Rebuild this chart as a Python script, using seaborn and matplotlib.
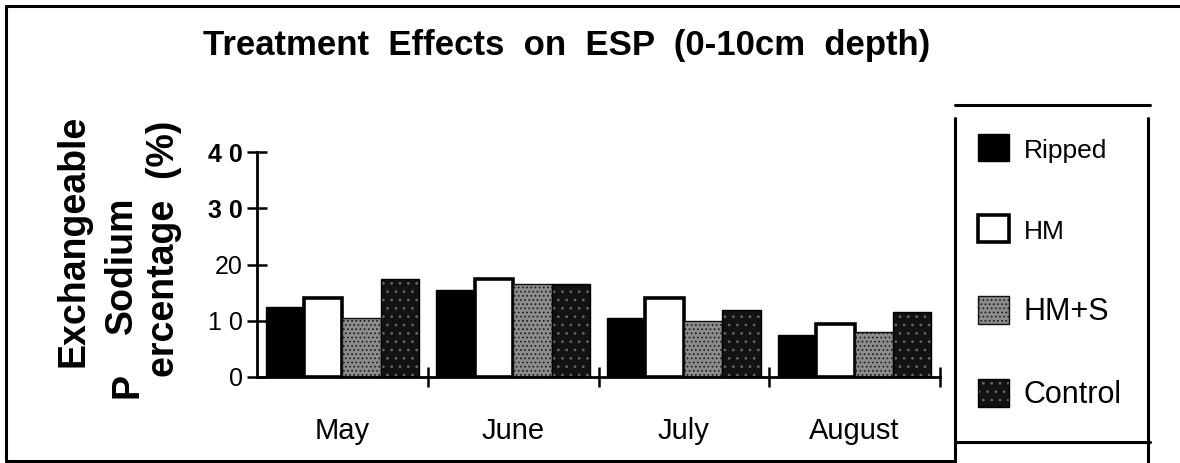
import matplotlib
matplotlib.use("Agg")
import matplotlib.pyplot as plt
import seaborn as sns
import pandas as pd
from matplotlib import font_manager
from matplotlib.colors import to_rgba
from matplotlib.lines import Line2D

# ---- data ----
months = ["May", "June", "July", "August"]
treatments = ["Ripped", "HM", "HM+S", "Control"]
ripped = [12.5, 15.5, 10.5, 7.5]
hm = [14.0, 17.5, 14.0, 9.5]
hm_s = [10.5, 16.5, 10.0, 8.0]
control = [17.5, 16.5, 12.0, 11.5]
y_ticks = [0, 10, 20, 30, 40]
y_tick_labels = ["0", "1 0", "20", "3 0", "4 0"]

W, H = 1180, 463


def pick_font(*names):
    for n in names:
        try:
            font_manager.findfont(font_manager.FontProperties(family=n),
                                  fallback_to_default=False)
            return n
        except ValueError:
            continue
    return "DejaVu Sans"


sns.set_theme(style="white")
SANS = pick_font("Liberation Sans", "Arial", "DejaVu Sans")
plt.rcParams["font.family"] = [SANS, "DejaVu Sans"]
plt.rcParams["hatch.linewidth"] = 0.7
for key in ("text.color", "axes.labelcolor", "xtick.color", "ytick.color",
            "axes.edgecolor"):
    plt.rcParams[key] = "black"

df = pd.DataFrame({
    "Month": months * 4,
    "Treatment": [t for t in treatments for _ in months],
    "ESP": ripped + hm + hm_s + control,
})

styles = {
    "Ripped": dict(face="#000000", edge="#000000", hatch=None, hcol=None, lw=1.0),
    "HM": dict(face="#ffffff", edge="#000000", hatch=None, hcol=None, lw=2.6),
    "HM+S": dict(face="#8c8c8c", edge="#111111", hatch="....", hcol="#1a1a1a", lw=1.0),
    "Control": dict(face="#121212", edge="#000000", hatch="..", hcol="#6a6a6a", lw=1.0),
}

fig = plt.figure(figsize=(W / 100, H / 100), dpi=100)
ax = fig.add_axes([257 / W, 86 / H, (940 - 257) / W, (377 - 152) / H])

sns.barplot(data=df, x="Month", y="ESP", hue="Treatment", order=months,
            hue_order=treatments, palette=[styles[t]["face"] for t in treatments],
            width=0.9, saturation=1, ax=ax, legend=False)

for cont, t in zip(ax.containers, treatments):
    s = styles[t]
    for p in cont.patches:
        p.set_facecolor(s["face"])
        p.set_edgecolor(s["edge"])
        p.set_linewidth(s["lw"])
        if s["hatch"]:
            p.set_hatch(s["hatch"])
            if hasattr(p, "set_hatchcolor"):
                p.set_hatchcolor(s["hcol"])
            else:
                p._hatch_color = to_rgba(s["hcol"])

ax.set_xlim(-0.5, 3.5)
ax.set_ylim(0, 40)
ax.set_xlabel("")
ax.set_ylabel("")

ax.set_xticks(range(len(months)))
ax.set_xticklabels(months, fontsize=21)
ax.set_xticks([0.5, 1.5, 2.5, 3.5], minor=True)
ax.tick_params(axis="x", which="major", bottom=True, length=0, pad=29)
ax.tick_params(axis="x", which="minor", bottom=True, direction="inout",
               length=14, width=1.8, color="black")

ax.set_yticks(y_ticks)
ax.set_yticklabels(y_tick_labels, fontsize=18)
for lab in ax.get_yticklabels():
    if lab.get_text() in ("3 0", "4 0"):
        lab.set_fontweight("bold")
ax.tick_params(axis="y", left=True, direction="inout", length=14, width=1.8,
               color="black", pad=3)

sns.despine(ax=ax)
for side in ("left", "bottom"):
    ax.spines[side].set_linewidth(2)
    ax.spines[side].set_color("black")
ax.grid(False)

# title
fig.text(567 / W, 1 - 46 / H, "Treatment  Effects  on  ESP  (0-10cm  depth)",
         ha="center", va="center", fontsize=25, fontweight="bold")

# y label, wrapped as in the original
ylab = dict(rotation=90, ha="center", va="center", fontsize=27, fontweight="bold")
fig.text(74 / W, 1 - 241 / H, "Exchangeable", **ylab)
fig.text(122 / W, 1 - 265 / H, "Sodium", **ylab)
fig.text(127 / W, 1 - 385 / H, "P", **ylab)
fig.text(164 / W, 1 - 249 / H, "ercentage  (%)", **ylab)

# legend
handles = [c.patches[0] for c in ax.containers]
leg = fig.legend(handles, treatments, loc="upper left",
                 bbox_to_anchor=(978 / W, 1 - 134 / H), frameon=False,
                 fontsize=22, handlelength=1.0, handleheight=1.0,
                 labelspacing=1.7, handletextpad=0.5, borderpad=0,
                 borderaxespad=0)
for txt in leg.get_texts():
    if txt.get_text() in ("Ripped", "HM"):
        txt.set_fontsize(19)


# page frame lines (pixel coords from the top-left)
def rule(x0, y0, x1, y1, lw=2.2):
    fig.add_artist(Line2D([x0 / W, x1 / W], [1 - y0 / H, 1 - y1 / H],
                          transform=fig.transFigure, color="black", lw=lw))


rule(6, 6, W, 6)
rule(6, 6, 6, 461)
rule(6, 461, 955, 461)
rule(955, 105, 1150, 105)
rule(955, 118, 955, H)
rule(1148, 118, 1148, H)
rule(955, 442, 1150, 442)

fig.savefig("out.png", dpi=100)
